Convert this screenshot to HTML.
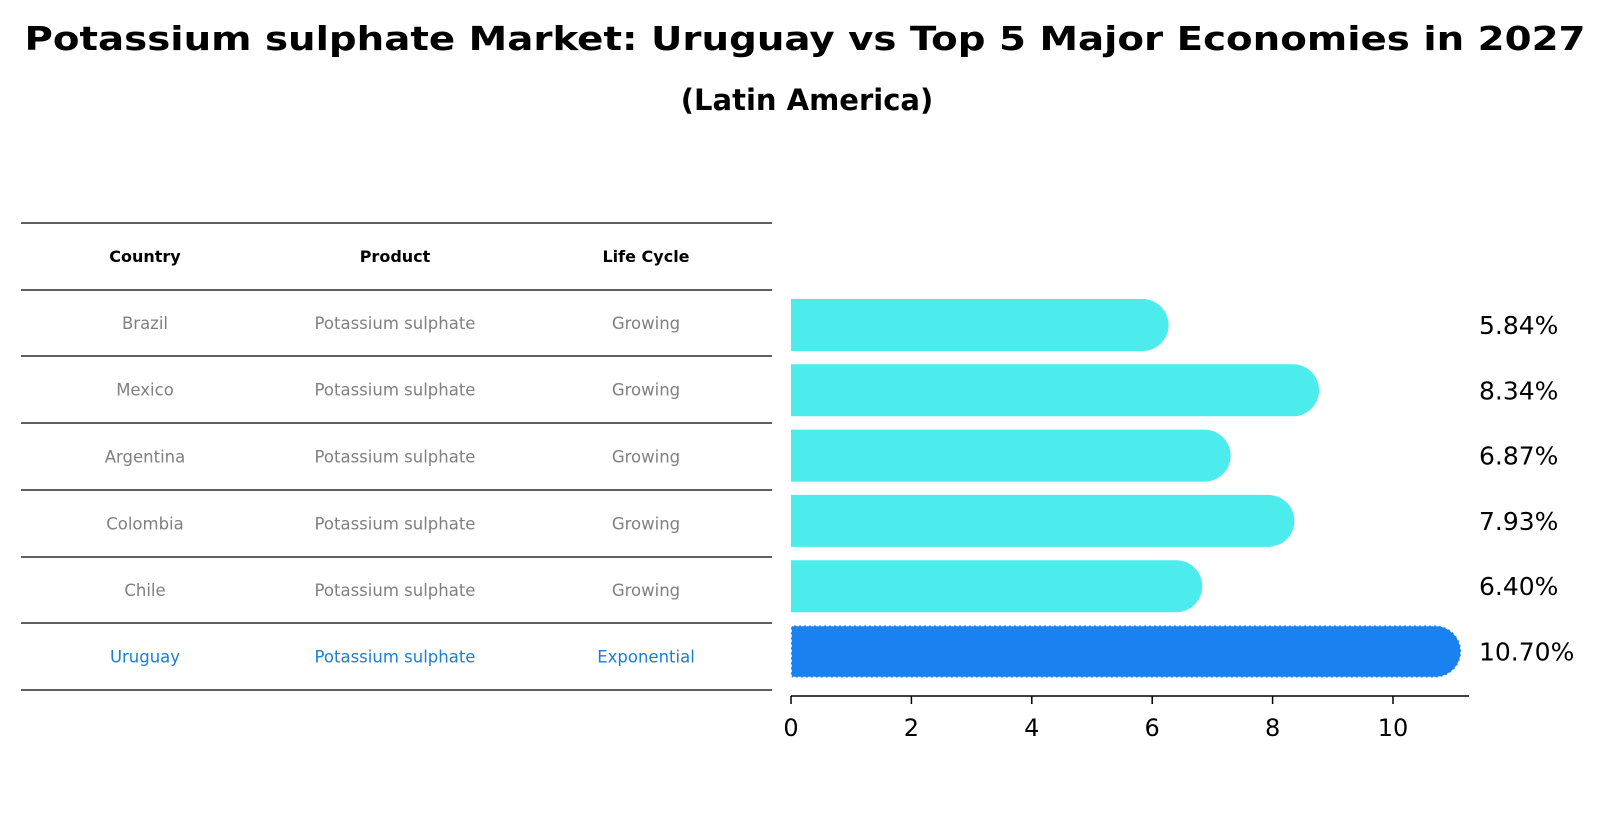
<!DOCTYPE html>
<html><head><meta charset="utf-8"><style>
html,body{margin:0;padding:0;background:#fff;}
svg{display:block;font-family:"DejaVu Sans","Liberation Sans",sans-serif;}
</style></head><body>
<svg id="chart" width="1610" height="823" viewBox="0 0 1610 823">
<text x="805" y="50" text-anchor="middle" font-size="33" font-weight="bold" textLength="1561" lengthAdjust="spacingAndGlyphs">Potassium sulphate Market: Uruguay vs Top 5 Major Economies in 2027</text>
<text x="807" y="110" text-anchor="middle" font-size="29" font-weight="bold">(Latin America)</text>
<g id="table"></g>
<g id="bars"></g>
<g id="axis"></g>
</svg>
<script>
const countries = ["Brazil","Mexico","Argentina","Colombia","Chile","Uruguay"];
const products = ["Potassium sulphate","Potassium sulphate","Potassium sulphate","Potassium sulphate","Potassium sulphate","Potassium sulphate"];
const lifeCycles = ["Growing","Growing","Growing","Growing","Growing","Exponential"];
const values = [5.84,8.34,6.87,7.93,6.40,10.70];
const valueLabels = ["5.84%","8.34%","6.87%","7.93%","6.40%","10.70%"];
const ticks = [0,2,4,6,8,10];
const headers = ["Country","Product","Life Cycle"];

const NS="http://www.w3.org/2000/svg";
function mk(tag,attrs,parent){const e=document.createElementNS(NS,tag);for(const k in attrs)e.setAttribute(k,attrs[k]);parent.appendChild(e);return e;}
const x0=791, pxPer=60.2;
const xs=v=>x0+v*pxPer;
const rowY0=325, rowStep=65.3;
const ys=i=>rowY0+i*rowStep;
const barH=52;

// table
const tbl=document.getElementById('table');
const lineYs=[223,290,356,423,490,557,623,690];
lineYs.forEach((y,i)=>{const l=mk('line',{x1:21,x2:772,y1:y,y2:y,stroke:'#000','stroke-width':1.2},tbl);

});
const colX=[145,395,646];
headers.forEach((h,j)=>{const t=mk('text',{x:colX[j],y:262,'text-anchor':'middle','font-size':16,'font-weight':'bold'},tbl);t.textContent=h;

});
countries.forEach((c,i)=>{
  const y=(lineYs[i+1]+lineYs[i+2])/2+6;
  const col=i===countries.length-1?'#1a7fd4':'#808080';
  [c,products[i],lifeCycles[i]].forEach((v,j)=>{const t=mk('text',{x:colX[j],y:y,'text-anchor':'middle','font-size':16.5,fill:col},tbl);t.textContent=v;
  
  });
});

// bars
const bars=document.getElementById('bars');
values.forEach((v,i)=>{
  const cy=ys(i), isU=i===values.length-1;
  const col=isU?'#1a82f0':'#4beceb';
  const g=mk('g',{},bars);
  
  
  const xe=xs(v);
  mk('path',{d:`M${x0},${cy-barH/2} H${xe} A${barH/2},${barH/2} 0 0 1 ${xe},${cy+barH/2} H${x0} Z`,fill:col,stroke:isU?'#ffffff':'none','stroke-width':isU?1.5:0,'stroke-dasharray':isU?'3,2':'none'},g);
  const t=mk('text',{x:1479,y:cy+9,'font-size':25},bars);t.textContent=valueLabels[i];
  
  
});

// axis
const ax=document.getElementById('axis');
mk('line',{x1:x0,x2:1469,y1:696,y2:696,stroke:'#000','stroke-width':1.5},ax);
ticks.forEach(t=>{
  mk('line',{x1:xs(t),x2:xs(t),y1:696,y2:704,stroke:'#000','stroke-width':1.5},ax);
  const tx=mk('text',{x:xs(t),y:736,'text-anchor':'middle','font-size':24},ax);tx.textContent=t;
  
  
});
</script>
</body></html>
